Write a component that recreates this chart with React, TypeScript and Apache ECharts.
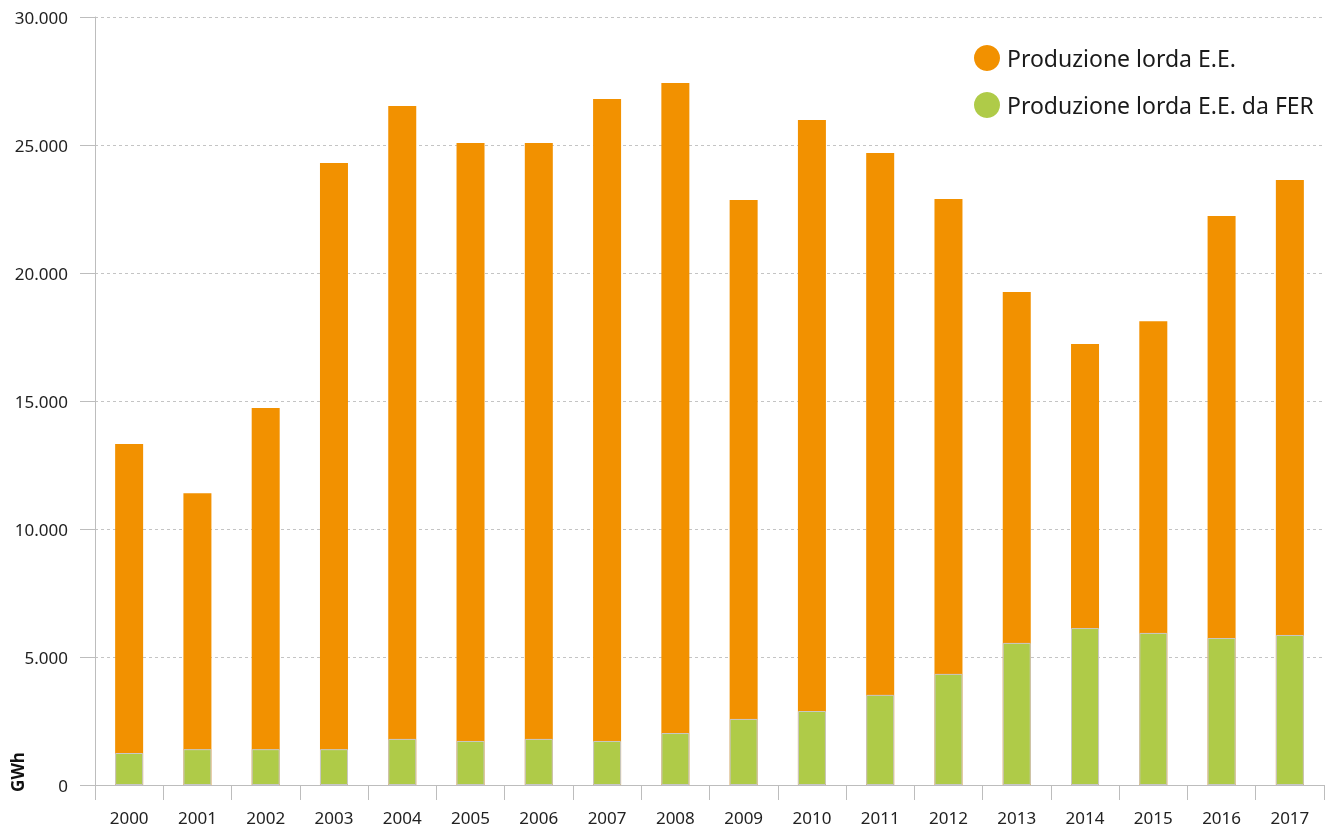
import React, { useEffect, useRef } from "react";
import * as echarts from "echarts";

const years = ["2000","2001","2002","2003","2004","2005","2006","2007","2008","2009","2010","2011","2012","2013","2014","2015","2016","2017"];
const produzioneLorda = [13320,11400,14730,24300,26520,25080,25080,26800,27420,22850,25980,24690,22890,19260,17230,18120,22230,23630];
const produzioneFer = [1250,1400,1400,1400,1800,1720,1800,1720,2030,2580,2890,3520,4340,5550,6130,5940,5740,5860];
const seriesNames = ["Produzione lorda E.E.", "Produzione lorda E.E. da FER"];

const fmt = (v: number) => String(v).replace(/\B(?=(\d{3})+(?!\d))/g, ".");

export default function App() {
  const ref = useRef<HTMLDivElement>(null);
  useEffect(() => {
    const chart = echarts.init(ref.current!, null, { renderer: "svg" });
    const font = "Noto Sans";
    chart.setOption({
      animation: false,
      textStyle: { fontFamily: font },
      grid: { left: 95, right: 14, top: 17, bottom: 52 },
      legend: {
        orient: "vertical",
        left: 969,
        top: 40,
        icon: "circle",
        itemWidth: 26,
        itemHeight: 26,
        itemGap: 21,
        itemStyle: { borderWidth: 0 },
        textStyle: { fontSize: 23, color: "#1a1a1a", fontFamily: font, padding: [0, 0, 0, 2] },
        data: seriesNames,
      },
      xAxis: {
        type: "category",
        data: years,
        axisLine: { lineStyle: { color: "#bdbdbd", width: 1 } },
        axisTick: { show: true, length: 15, lineStyle: { color: "#bdbdbd" } },
        axisLabel: { color: "#222", fontSize: 17, margin: 24 },
      },
      yAxis: {
        type: "value",
        min: 0,
        max: 30000,
        interval: 5000,
        axisLine: { show: true, lineStyle: { color: "#bdbdbd" } },
        axisTick: { show: true, length: 15, lineStyle: { color: "#bdbdbd" } },
        axisLabel: { color: "#222", fontSize: 17, margin: 27, formatter: (v: number) => fmt(v) },
        splitLine: { lineStyle: { color: "#c4c4c4", type: [3, 3] } },
      },
      graphic: [
        {
          type: "text",
          x: 17,
          y: 772,
          rotation: Math.PI / 2,
          style: { text: "GWh", fontSize: 17, fontWeight: "bold", fill: "#111", fontFamily: font, align: "center", verticalAlign: "middle" },
        },
      ],
      series: [
        {
          name: seriesNames[0],
          type: "bar",
          data: produzioneLorda,
          barWidth: 28,
          barGap: "-100%",
          itemStyle: { color: "#F29100" },
        },
        {
          name: seriesNames[1],
          type: "bar",
          data: produzioneFer,
          barWidth: 28,
          barGap: "-100%",
          itemStyle: { color: "#AFCB48", borderColor: "#c8c8c8", borderWidth: 1 },
        },
      ],
    });
    return () => chart.dispose();
  }, []);
  return <div ref={ref} style={{ position: "fixed", left: 0, top: 0, width: 1338, height: 837 }} />;
}
